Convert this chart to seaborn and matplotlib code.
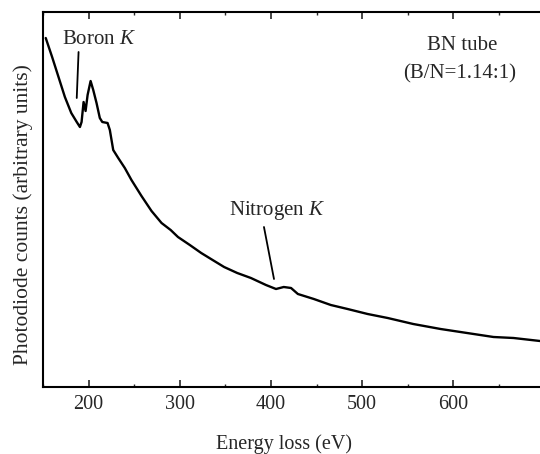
import matplotlib
matplotlib.use("Agg")
import matplotlib.pyplot as plt
import seaborn as sns
import pandas as pd

# Data (energy loss in eV, photodiode counts in arbitrary units)
energy = [153, 160, 167, 174, 181, 187, 190.5, 192.3, 194.5, 196.7, 198.9, 202.2,
          205.1, 208.7, 212.3, 215, 220.8, 223.3, 227, 232.5, 239.7, 247, 258,
          269, 280, 290, 298, 311, 323.5, 336, 348.6, 363, 378, 394.5, 405.5,
          414, 422, 429.5, 447, 465.6, 484, 506, 528, 556, 586, 615, 644, 666, 695]
counts = [349, 330, 310, 290, 274, 265, 260, 265, 285, 276, 292, 306,
          297, 284, 269, 265, 264, 257, 237, 229, 219, 207, 191,
          176, 164, 157, 150, 142, 134, 127, 120, 114, 109, 102, 98,
          100, 99, 93, 88, 82, 78, 73, 69, 63, 58, 54, 50, 49, 46]

xticks = [200, 300, 400, 500, 600]
xticklabels = ["200", "300", "400", "500", "600"]

df = pd.DataFrame({"Energy loss (eV)": energy, "counts": counts})

sns.set_style("ticks")
plt.rcParams["font.family"] = ["Liberation Serif", "DejaVu Serif"]
plt.rcParams["mathtext.fontset"] = "custom"
plt.rcParams["mathtext.it"] = "Liberation Serif:italic"
plt.rcParams["mathtext.rm"] = "Liberation Serif"

fig = plt.figure(figsize=(5.4, 4.54), dpi=100)
ax = fig.add_axes([43 / 540, 67 / 454, 1 - 43 / 540, 375 / 454])

sns.lineplot(data=df, x="Energy loss (eV)", y="counts", ax=ax, color="black",
             linewidth=1.7, sort=False)

ax.set_xlim(152, 695)
ax.set_ylim(0, 375)
ax.set_xticks(xticks)
ax.set_xticklabels(xticklabels, fontsize=14.5)
ax.set_xticks(range(150, 700, 50), minor=True)
ax.set_yticks([])
ax.tick_params(axis="x", which="major", direction="in", length=5, width=1.2,
               top=True, pad=6)
ax.tick_params(axis="x", which="minor", direction="in", length=2.5, width=1.0,
               top=True)
for s in ["left", "bottom", "top"]:
    ax.spines[s].set_linewidth(1.5)
    ax.spines[s].set_color("black")
ax.spines["right"].set_visible(False)

ax.set_xlabel("Energy loss (eV)", fontsize=14.5)
ax.xaxis.label.set_va("center")
ax.xaxis.set_label_coords((284 - 43) / 497, -(444 - 387) / 375)
ax.set_ylabel("Photodiode counts (arbitrary units)", fontsize=15.5)
ax.yaxis.label.set_va("center")
ax.yaxis.set_label_coords(-(43 - 23) / 497, (387 - 215) / 375)

# annotations
ax.text(212, 347, r"Boron $K$", ha="center", va="center", fontsize=15)
ax.plot([189, 187], [335, 289], color="black", lw=1.3)
ax.text(406.6, 177, r"Nitrogen $K$", ha="center", va="center", fontsize=15)
ax.plot([392.3, 403.3], [160, 108], color="black", lw=1.3)
ax.text(610, 341, "BN tube", ha="center", va="center", fontsize=15)
ax.text(607, 313, "(B/N=1.14:1)", ha="center", va="center", fontsize=15)

fig.savefig("out.png", dpi=100)
